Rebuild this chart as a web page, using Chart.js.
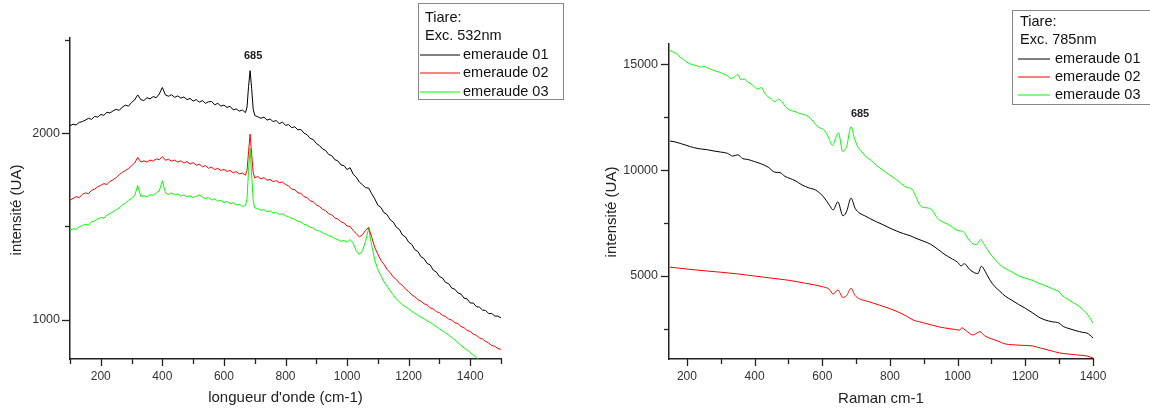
<!DOCTYPE html>
<html><head><meta charset="utf-8">
<script src="https://cdn.jsdelivr.net/npm/chart.js@4.4.1/dist/chart.umd.min.js"></script>
<style>
html,body{margin:0;padding:0;background:#fff;width:1150px;height:412px;overflow:hidden;}
#c1{position:absolute;left:0;top:0;width:580px;height:412px;}
#c2{position:absolute;left:580px;top:0;width:570px;height:412px;}
</style></head><body>
<canvas id="c1" width="580" height="412"></canvas>
<canvas id="c2" width="570" height="412"></canvas>
<script>
// ---------- data: left chart (Exc. 532nm) ----------
const waveLeft = [
100,110,120,130,140,150,160,170,180,190,
200,210,220,230,240,250,260,270,280,290,
300,310,320,330,340,350,360,370,380,390,
400,410,420,430,440,450,460,470,480,490,
500,510,520,530,540,550,560,570,580,590,
600,610,620,630,640,650,660,670,675,680,
685,690,695,700,710,720,730,740,750,760,
770,780,790,800,810,820,830,840,850,860,
870,880,890,900,910,920,930,940,950,960,
970,980,990,1000,1010,1020,1030,1040,1050,1060,
1070,1080,1090,1100,1110,1120,1130,1140,1150,1160,
1170,1180,1190,1200,1210,1220,1230,1240,1250,1260,
1270,1280,1290,1300,1310,1320,1330,1340,1350,1360,
1370,1380,1390,1400,1410,1420,1430,1440,1450,1460,
1470,1480,1490,1500];
const em01_532 = [
2040,2048,2044,2058,2062,2070,2080,2074,2090,2086,
2100,2096,2112,2108,2120,2128,2122,2140,2150,2145,
2165,2178,2205,2180,2175,2190,2184,2196,2190,2210,
2245,2205,2198,2206,2192,2200,2188,2194,2180,2186,
2172,2180,2166,2175,2160,2168,2170,2152,2160,2145,
2150,2138,2144,2125,2130,2118,2124,2110,2140,2250,
2335,2240,2130,2095,2088,2080,2086,2070,2076,2062,
2068,2050,2060,2042,2046,2030,2034,2018,2020,2000,
1992,1972,1966,1945,1934,1916,1908,1886,1880,1858,
1852,1830,1826,1805,1815,1780,1764,1738,1724,1708,
1706,1676,1648,1614,1602,1574,1564,1536,1524,1496,
1484,1454,1444,1416,1404,1376,1366,1338,1328,1302,
1294,1266,1256,1232,1224,1200,1194,1170,1164,1144,
1138,1116,1112,1090,1090,1070,1068,1052,1050,1034,
1034,1020,1020,1010];
const em02_532 = [
1642,1650,1660,1655,1672,1680,1676,1694,1700,1712,
1720,1730,1725,1742,1750,1762,1778,1790,1800,1810,
1825,1840,1870,1845,1852,1845,1856,1850,1862,1858,
1875,1855,1860,1850,1856,1845,1852,1840,1848,1835,
1842,1828,1834,1820,1826,1812,1818,1805,1812,1800,
1806,1795,1800,1788,1794,1782,1786,1775,1800,1900,
1995,1890,1790,1760,1768,1755,1762,1748,1752,1740,
1746,1735,1738,1725,1718,1700,1698,1680,1678,1660,
1655,1638,1632,1616,1608,1592,1586,1568,1563,1546,
1540,1526,1518,1503,1500,1478,1462,1444,1456,1480,
1495,1442,1388,1352,1318,1297,1270,1252,1230,1216,
1196,1184,1164,1152,1134,1124,1108,1100,1086,1080,
1064,1058,1044,1038,1024,1018,1004,998,984,980,
964,958,943,938,924,917,903,897,884,876,
862,858,846,842];
const em03_532 = [
1480,1488,1485,1498,1505,1512,1508,1525,1530,1540,
1548,1545,1560,1570,1578,1590,1600,1615,1625,1640,
1650,1665,1720,1660,1665,1658,1670,1666,1680,1690,
1745,1680,1672,1680,1668,1675,1662,1670,1658,1665,
1655,1662,1670,1658,1650,1655,1642,1648,1636,1640,
1628,1635,1622,1628,1615,1620,1608,1612,1650,1800,
1920,1780,1640,1600,1595,1588,1590,1580,1584,1572,
1575,1565,1568,1558,1552,1545,1538,1528,1524,1512,
1508,1496,1492,1480,1476,1466,1461,1450,1446,1435,
1430,1420,1425,1415,1430,1410,1370,1350,1370,1420,
1490,1400,1320,1270,1236,1204,1180,1154,1134,1110,
1096,1080,1070,1058,1046,1035,1026,1015,1006,995,
986,975,964,952,941,930,919,905,893,878,
864,850,838,825,812,798,785,772,760,748,
736,725,714,702];

// ---------- data: right chart (Exc. 785nm) ----------
const raman01 = [150,165,180,200,220,240,260,280,300,320,335,350,365,380,400,420,440,460,475,490,505,520,540,560,580,600,612,622,632,646,661,672,685,697,711,725,740,760,780,800,820,840,860,880,900,920,940,960,980,1000,1010,1020,1035,1050,1060,1070,1082,1095,1110,1125,1140,1160,1180,1200,1220,1240,1258,1280,1300,1312,1325,1350,1370,1382,1400];
const em01_785 = [11370,11330,11260,11160,11060,11000,10960,10900,10850,10790,10660,10720,10540,10500,10400,10290,10140,9900,9880,9700,9600,9500,9300,9160,9060,8800,8560,8320,8120,8500,7840,8060,8680,8200,7960,7850,7720,7560,7420,7260,7120,7000,6900,6760,6640,6500,6280,6040,5840,5650,5480,5580,5320,5150,5120,5460,5200,4820,4500,4280,4060,3860,3660,3480,3280,3060,2930,2840,2780,2620,2540,2420,2340,2310,2080];
const raman02 = [150,200,250,300,350,400,450,500,550,600,620,632,646,661,672,685,697,711,740,770,800,830,850,868,900,925,948,975,995,1006,1012,1025,1045,1066,1080,1100,1119,1140,1160,1190,1222,1245,1270,1302,1320,1345,1365,1382,1400];
const em02_785 = [5420,5330,5250,5180,5100,5000,4900,4800,4660,4500,4380,4150,4340,3990,4080,4420,4080,3920,3780,3620,3460,3260,3100,2930,2790,2680,2590,2520,2470,2450,2560,2420,2220,2370,2180,2040,1930,1800,1760,1730,1700,1600,1500,1370,1330,1290,1260,1225,1130];
const raman03 = [150,160,170,180,190,200,210,220,230,240,250,260,270,280,290,300,310,320,330,340,350,360,370,380,390,400,410,420,430,440,450,460,470,480,490,500,510,520,530,540,550,560,570,580,590,600,610,620,630,640,648,660,672,685,695,705,715,730,745,760,775,790,805,820,835,850,865,875,885,895,910,925,940,955,970,985,1000,1012,1020,1030,1045,1055,1068,1080,1095,1110,1125,1140,1160,1180,1200,1220,1240,1260,1280,1300,1310,1320,1340,1360,1380,1390,1400];
const em03_785 = [15650,15560,15480,15330,15220,15090,15010,14960,14920,14860,14900,14840,14760,14700,14650,14600,14520,14450,14320,14380,14520,14260,14300,14150,14060,13920,13820,13900,13620,13460,13350,13220,13340,13240,13020,12860,12800,12760,12690,12640,12600,12500,12360,12160,12010,11950,11800,11480,11160,11520,11760,10880,11120,12050,11500,11100,10900,10620,10450,10220,10050,9870,9700,9540,9340,9180,9100,8800,8450,8250,8220,8100,7730,7560,7450,7300,7150,7120,7050,6780,6520,6480,6720,6450,6080,5800,5530,5360,5200,5010,4900,4800,4660,4540,4400,4250,4060,3960,3760,3560,3260,3050,2780];

// ---------- ticks and labels ----------
const xTicksLeft = [100,200,300,400,500,600,700,800,900,1000,1100,1200,1300,1400,1500];
const yTicksLeft = [1000,1500,2000,2500];
const xTicksRight = [200,300,400,500,600,700,800,900,1000,1100,1200,1300,1400];
const yTicksRight = [2500,5000,7500,10000,12500,15000];
const seriesNames = ['emeraude 01', 'emeraude 02', 'emeraude 03'];
const seriesColors = ['#000000', '#ff0000', '#00ff00'];
const legendHead532 = ['Tiare:', 'Exc. 532nm'];
const legendHead785 = ['Tiare:', 'Exc. 785nm'];
const peakLabel = '685';
const yTitle = 'intensité (UA)';
const xTitleLeft = "longueur d'onde (cm-1)";
const xTitleRight = 'Raman cm-1';

const FONT = '"Liberation Sans", Arial, Helvetica, sans-serif';
const pairs = (xs, ys) => xs.map((x, i) => ({x: x, y: ys[i]}));

const deco = {
  id: 'deco',
  afterDraw(chart, args, o) {
    const ctx = chart.ctx, xs = chart.scales.x, ys = chart.scales.y, a = chart.chartArea;
    ctx.save();
    ctx.strokeStyle = '#222'; ctx.lineWidth = 1.3;
    xs.ticks.forEach(t => {
      const px = Math.round(xs.getPixelForValue(t.value)) + 0.5;
      const major = t.value % o.xMajor === 0;
      ctx.beginPath(); ctx.moveTo(px, a.bottom); ctx.lineTo(px, a.bottom + (major ? 7 : 5)); ctx.stroke();
    });
    ys.ticks.forEach(t => {
      const py = Math.round(ys.getPixelForValue(t.value)) + 0.5;
      const major = t.value % o.yMajor === 0;
      ctx.beginPath(); ctx.moveTo(a.left, py); ctx.lineTo(a.left - (major ? 8 : 5), py); ctx.stroke();
    });
    // axis titles
    ctx.fillStyle = '#222';
    ctx.font = '15px ' + FONT;
    ctx.textAlign = 'center'; ctx.textBaseline = 'middle';
    ctx.fillText(o.xTitle, (a.left + a.right) / 2 + o.xTitleDx, o.xTitleY);
    ctx.save(); ctx.translate(o.yTitleX, o.yTitleY); ctx.rotate(-Math.PI / 2);
    ctx.fillText(yTitle, 0, 0); ctx.restore();
    // peak label
    ctx.font = 'bold 11px ' + FONT;
    ctx.fillStyle = '#222';
    ctx.fillText(peakLabel, xs.getPixelForValue(685) + o.peakDx, o.peakY);
    // legend
    const L = o.legend;
    ctx.strokeStyle = '#888'; ctx.lineWidth = 1;
    ctx.strokeRect(L.x + 0.5, L.y + 0.5, L.w, L.h);
    ctx.font = '14.5px ' + FONT; ctx.fillStyle = '#111';
    ctx.textAlign = 'left';
    L.head.forEach((s, i) => ctx.fillText(s, L.textX, L.y + L.first + i * L.step));
    chart.data.datasets.forEach((d, i) => {
      const yy = Math.round(L.y + L.first + (i + 2) * L.step);
      ctx.strokeStyle = d.borderColor; ctx.lineWidth = 1;
      ctx.beginPath(); ctx.moveTo(L.lx0, yy); ctx.lineTo(L.lx1, yy); ctx.stroke();
      ctx.fillText(d.label, L.lx1 + L.gap, yy);
    });
    ctx.restore();
  }
};

function makeChart(id, datasets, sc, plug, areaPad, yW, smooth) {
  return new Chart(document.getElementById(id), {
    type: 'line',
    data: { datasets: datasets.map((d, i) => ({
      label: seriesNames[i], data: d, borderColor: seriesColors[i], backgroundColor: seriesColors[i],
      borderWidth: 1, pointRadius: 0, fill: false,
      tension: 0, cubicInterpolationMode: smooth ? 'monotone' : 'default'
    })) },
    options: {
      responsive: false, animation: false, events: [],
      layout: { padding: areaPad },
      plugins: { legend: { display: false }, tooltip: { enabled: false }, deco: plug },
      scales: {
        x: {
          type: 'linear', min: sc.xmin, max: sc.xmax,
          grid: { display: false, drawTicks: false },
          border: { display: true, color: '#222', width: 1.5 },
          ticks: { autoSkip: false, maxRotation: 0, padding: 10,
            color: '#333', font: { family: FONT, size: 12 },
            callback: v => (v % 200 === 0 ? String(v) : '') },
          afterBuildTicks: s => { s.ticks = sc.xticks.map(v => ({ value: v })); },
          afterFit: s => { s.height = 53; }
        },
        y: {
          type: 'linear', min: sc.ymin, max: sc.ymax,
          grid: { display: false, drawTicks: false },
          border: { display: true, color: '#222', width: 1.5 },
          ticks: { autoSkip: false, padding: sc.ypad,
            color: '#333', font: { family: FONT, size: 12.5 },
            callback: v => (v % sc.ymajor === 0 ? String(v) : '') },
          afterBuildTicks: s => { s.ticks = sc.yticks.map(v => ({ value: v })); },
          afterFit: s => { s.width = yW; }
        }
      }
    },
    plugins: [deco]
  });
}

makeChart('c1',
  [pairs(waveLeft, em01_532), pairs(waveLeft, em02_532), pairs(waveLeft, em03_532)],
  { xmin: 100, xmax: 1500, ymin: 790, ymax: 2510, ymajor: 1000, ypad: 10, xticks: xTicksLeft, yticks: yTicksLeft },
  { xMajor: 200, yMajor: 1000, xTitle: xTitleLeft, xTitleDx: 0, xTitleY: 398, yTitleX: 17, yTitleY: 210,
    peakDx: 3, peakY: 56,
    legend: { x: 418, y: 3, w: 145, h: 96, head: legendHead532, textX: 425, first: 15, step: 18.4, lx0: 420, lx1: 460, gap: 3 } },
  { top: 38, right: 79, left: 0, bottom: 0 }, 70, false);

makeChart('c2',
  [pairs(raman01, em01_785), pairs(raman02, em02_785), pairs(raman03, em03_785)],
  { xmin: 147, xmax: 1400, ymin: 1085, ymax: 15950, ymajor: 5000, ypad: 11, xticks: xTicksRight, yticks: yTicksRight },
  { xMajor: 200, yMajor: 5000, xTitle: xTitleRight, xTitleDx: 0, xTitleY: 399, yTitleX: 32, yTitleY: 212,
    peakDx: 9, peakY: 114,
    legend: { x: 432, y: 10, w: 160, h: 94, head: legendHead785, textX: 440, first: 12, step: 18.3, lx0: 438, lx1: 470, gap: 5 } },
  { top: 44, right: 57, left: 0, bottom: 0 }, 89, true);
</script></body></html>
